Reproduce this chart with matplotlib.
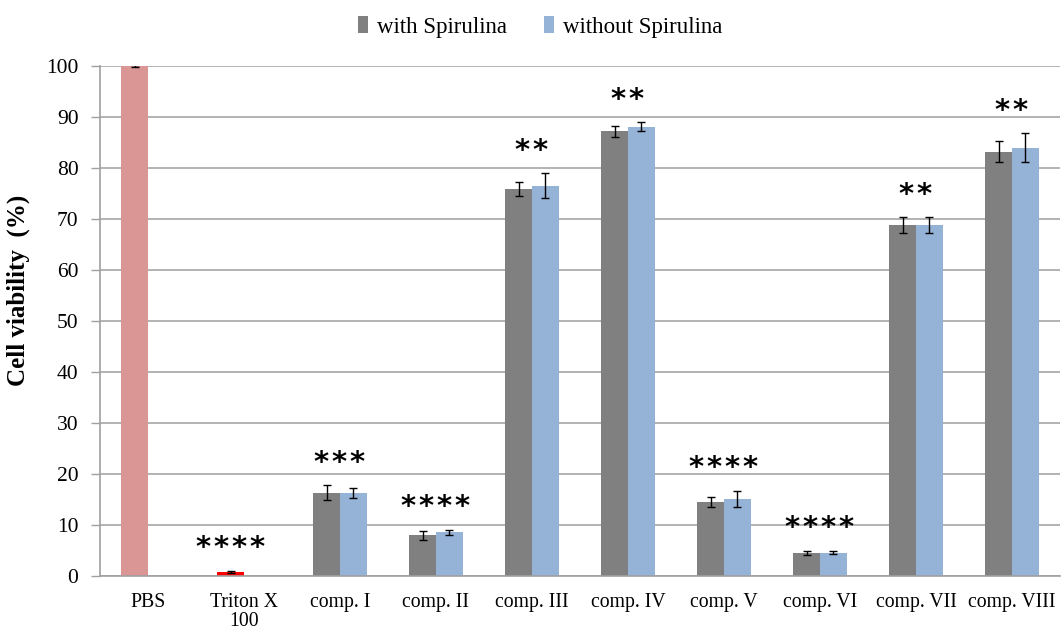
import numpy as np
import matplotlib
matplotlib.use("Agg")
import matplotlib.pyplot as plt
from matplotlib.patches import Patch

# Cell viability (%) per treatment, mean and error
categories = ["PBS", "Triton X\n100", "comp. I", "comp. II", "comp. III",
              "comp. IV", "comp. V", "comp. VI", "comp. VII", "comp. VIII"]
with_spirulina = [100.0, 0.85, 16.3, 8.0, 75.9, 87.2, 14.5, 4.55, 68.8, 83.2]
with_err = [0.2, 0.2, 1.45, 0.9, 1.3, 1.1, 1.0, 0.45, 1.55, 2.1]
without_spirulina = [np.nan, np.nan, 16.3, 8.55, 76.5, 88.1, 15.1, 4.55, 68.8, 84.0]
without_err = [np.nan, np.nan, 0.95, 0.5, 2.45, 0.85, 1.6, 0.3, 1.55, 2.85]
significance = ["", "****", "***", "****", "**", "**", "****", "****", "**", "**"]
control_colors = {0: "#D99694", 1: "#FF0000"}

series_labels = ["with Spirulina", "without Spirulina"]
c_with = "#808080"
c_without = "#95B3D7"

serif = ["Liberation Serif", "DejaVu Serif"]
plt.rcParams["font.family"] = serif

fig = plt.figure(figsize=(10.61, 6.35), dpi=100)
ax = fig.add_axes([100 / 1061, 59 / 635, 960 / 1061, 510 / 635])

x = np.arange(len(categories))
w = 0.28
colors_with = [control_colors.get(i, c_with) for i in range(len(categories))]

ax.bar(x - w / 2, with_spirulina, w, color=colors_with, zorder=2)
ax.errorbar(x - w / 2, with_spirulina, yerr=with_err, fmt="none",
            ecolor="black", elinewidth=1, capsize=3, capthick=1, zorder=3)
ax.bar(x + w / 2, without_spirulina, w, color=c_without, zorder=2)
ax.errorbar(x + w / 2, without_spirulina, yerr=without_err, fmt="none",
            ecolor="black", elinewidth=1, capsize=3, capthick=1, zorder=3)

# significance stars above each group
for i, s in enumerate(significance):
    if not s:
        continue
    top = with_spirulina[i] + with_err[i]
    if np.isnan(without_spirulina[i]):
        xc = x[i] - w / 2
    else:
        top = max(top, without_spirulina[i] + without_err[i])
        xc = x[i]
    ax.text(xc, top + 4.4, "\u200a".join(s), ha="center", va="center",
            fontsize=21, fontweight="bold", family=["DejaVu Sans"],
            color="black", zorder=4)

ax.set_xlim(-0.5, len(categories) - 0.5)
ax.set_ylim(0, 100)
ax.set_yticks(np.arange(0, 101, 10))
ax.set_xticks(x)
ax.set_xticklabels(categories, fontsize=14.2, linespacing=1.05)
ax.tick_params(axis="x", length=0, pad=12)
ax.tick_params(axis="y", direction="out", length=6.5, width=1, color="#A0A0A0",
               labelsize=15.5, pad=9)

ax.grid(axis="y", color="#A6A6A6", linewidth=1.2, zorder=0)
ax.set_axisbelow(True)
for side in ("top", "right"):
    ax.spines[side].set_visible(False)
ax.spines["left"].set_color("#A0A0A0")
ax.spines["bottom"].set_color("#A0A0A0")
ax.spines["left"].set_linewidth(1.2)
ax.spines["bottom"].set_linewidth(1.2)

ax.set_ylabel("Cell viability  (%)", fontsize=18, fontweight="bold")
ax.yaxis.set_label_coords(-0.073, 0.56)

handles = [Patch(facecolor=c_with, label=series_labels[0]),
           Patch(facecolor=c_without, label=series_labels[1])]
fig.legend(handles=handles, loc="center", bbox_to_anchor=(540 / 1061, 0.958), ncol=2,
           frameon=False, fontsize=16.5, handlelength=0.45, handleheight=0.8,
           handletextpad=0.4, columnspacing=1.6)

fig.savefig("out.png", dpi=100, facecolor="white")
